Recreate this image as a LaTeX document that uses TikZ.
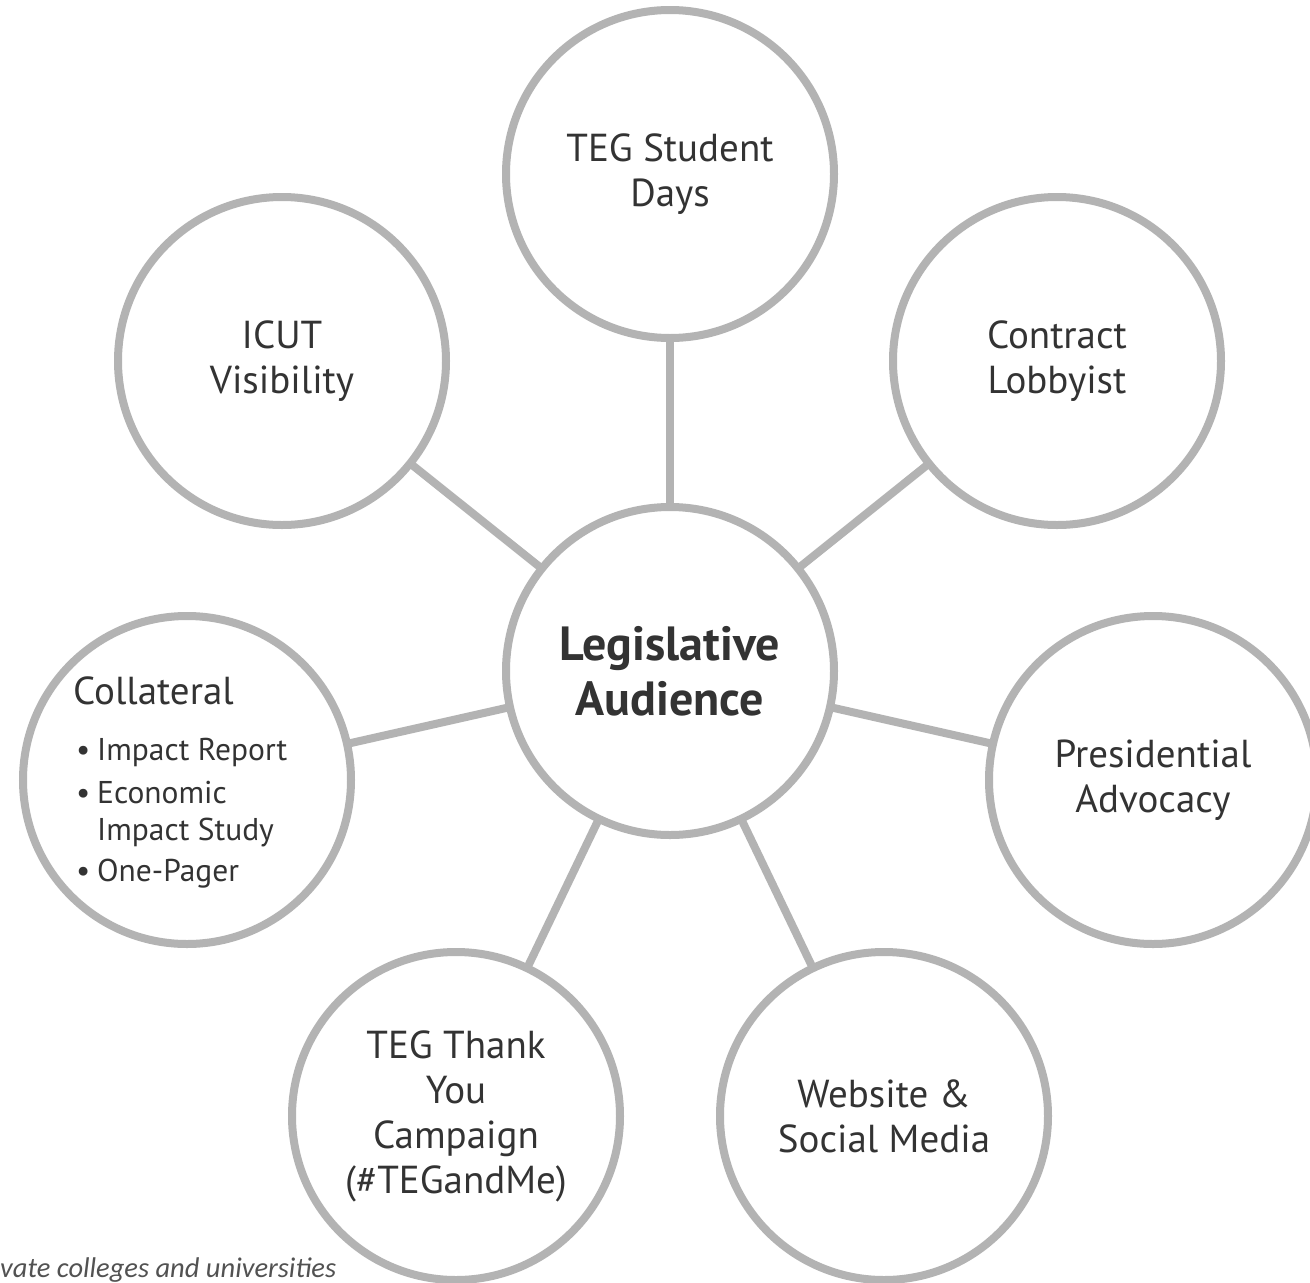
\documentclass[tikz,border=0pt]{standalone}
\usepackage{fontspec}
\setmainfont{PT Sans}
\newfontfamily\notefont{Carlito}
\definecolor{ringgray}{RGB}{179,179,179}
\definecolor{txtgray}{RGB}{51,51,51}
\begin{document}
\begin{tikzpicture}[x=1pt,y=-1pt,
  ring/.style={circle,draw=ringgray,line width=8pt,fill=white,minimum size=328pt,inner sep=0pt,outer sep=0pt,
    text=txtgray,align=center,font=\fontsize{39}{45}\selectfont},
  hub/.style={ring,font=\fontsize{48}{55}\selectfont\bfseries},
  link/.style={draw=ringgray,line width=8pt},
  bul/.style={anchor=base west,inner sep=0pt,text=txtgray,font=\fontsize{31.5}{37}\selectfont,align=left}
]
\useasboundingbox (0,0) rectangle (1310,1283);
\fill[white] (0,0) rectangle (1310,1283);
\node[hub]  (hub)  at (670,671)  {Legislative\\Audience};
\node[ring] (days) at (670,174)  {TEG Student\\Days};
\node[ring] (icut) at (282,361)  {ICUT\\Visibility};
\node[ring] (lob)  at (1057,361) {Contract\\Lobbyist};
\node[ring] (coll) at (187,780)  {};
\node[ring] (pres) at (1153,780) {Presidential\\Advocacy};
\node[ring] (thx)  at (456,1116) {TEG Thank\\You\\Campaign\\(\#TEGandMe)};
\node[ring] (web)  at (884,1116) {Website \&\\Social Media};
\foreach \n in {days,icut,lob,coll,pres,thx,web}{\path[link] (hub) -- (\n);}
\node[bul,font=\fontsize{39}{45}\selectfont] (colltitle) at (73,704) {Collateral};
\node[bul] (b1) at (76,760) {\textbullet};
\node[bul] (t1) at (97,760) {Impact Report};
\node[bul] (b2) at (76,803) {\textbullet};
\node[bul] (t2) at (97,803) {Economic};
\node[bul] (t2b) at (97,840) {Impact Study};
\node[bul] (b3) at (76,881) {\textbullet};
\node[bul] (t3) at (97,881) {One-Pager};
\node[anchor=base west,inner sep=0pt,text=txtgray!85,font=\notefont\itshape\fontsize{28.5}{30}\selectfont] (note) at (0,1277) {vate colleges and universities};
\end{tikzpicture}
\end{document}
